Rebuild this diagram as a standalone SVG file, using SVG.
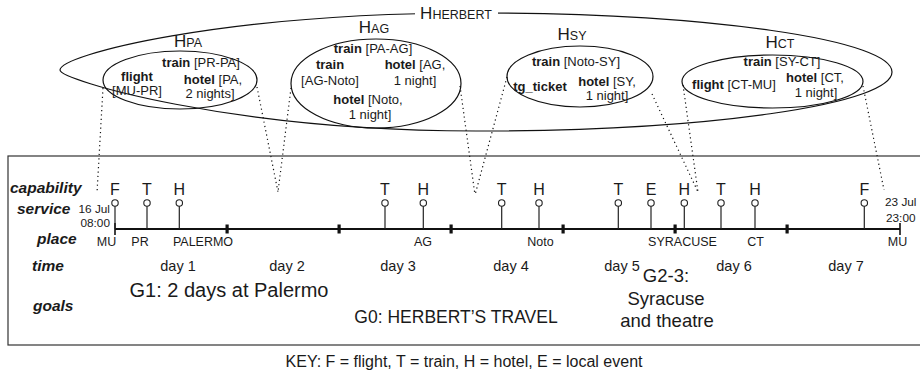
<svg xmlns="http://www.w3.org/2000/svg" width="920" height="371" viewBox="0 0 920 371">
<style>
text{font-family:"Liberation Sans",Arial,sans-serif;fill:#1a1a1a}
.c{font-size:13px;text-anchor:middle}
.b{font-weight:bold}
.hl{font-size:17px;text-anchor:middle}
.hs{font-size:12.5px}
.el{fill:none;stroke:#111;stroke-width:1.2}
.dot{fill:none;stroke:#111;stroke-width:1.2;stroke-dasharray:1.2 3.2}
.lbl{font-size:15.5px;font-weight:bold;font-style:italic}
.let{font-size:16px;text-anchor:middle}
.pl{font-size:12.5px;text-anchor:middle}
.dt{font-size:11.8px}
.day{font-size:14.5px;text-anchor:middle}
.stem{stroke:#222;stroke-width:1.2}
.pin{fill:#fff;stroke:#222;stroke-width:1.1}
.tick{fill:#111}
</style>

<rect x="8" y="156" width="930" height="189" fill="none" stroke="#333" stroke-width="1.2"/>

<g id="H_HERBERT">
<path class="el" d="M476,13 A416,59 0 0 1 476,131 C230,131 60,80 60,70 C60,55 220,13 476,13 Z"/>
<rect x="415" y="4" width="83" height="18" fill="#fff"/>
<text x="456" y="19" class="hl">H<tspan class="hs">HERBERT</tspan></text>
</g>

<g id="H_PA">
<ellipse class="el" cx="180" cy="80" rx="77" ry="29"/>
<text x="188" y="47" class="hl">H<tspan class="hs">PA</tspan></text>
<text x="201" y="67" class="c"><tspan class="b">train</tspan> [PR-PA]</text>
<text x="137" y="81" class="c b">flight</text>
<text x="137" y="95" class="c">[MU-PR]</text>
<text x="213" y="84" class="c"><tspan class="b">hotel</tspan> [PA,</text>
<text x="210" y="98" class="c">2 nights]</text>
</g>

<g id="H_AG">
<ellipse class="el" cx="376" cy="83.5" rx="85" ry="44.5"/>
<text x="374" y="33" class="hl">H<tspan class="hs">AG</tspan></text>
<text x="373" y="53" class="c"><tspan class="b">train</tspan> [PA-AG]</text>
<text x="330" y="69" class="c b">train</text>
<text x="330" y="85" class="c">[AG-Noto]</text>
<text x="415" y="69" class="c"><tspan class="b">hotel</tspan> [AG,</text>
<text x="415" y="85" class="c">1 night]</text>
<text x="368" y="104" class="c"><tspan class="b">hotel</tspan> [Noto,</text>
<text x="370" y="119" class="c">1 night]</text>
</g>

<g id="H_SY">
<ellipse class="el" cx="580" cy="76.5" rx="73" ry="30.5"/>
<text x="572" y="40" class="hl">H<tspan class="hs">SY</tspan></text>
<text x="576" y="66" class="c"><tspan class="b">train</tspan> [Noto-SY]</text>
<text x="540" y="91" class="c b">tg_ticket</text>
<text x="607" y="86" class="c"><tspan class="b">hotel</tspan> [SY,</text>
<text x="607" y="100" class="c">1 night]</text>
</g>

<g id="H_CT">
<ellipse class="el" cx="772.5" cy="81.5" rx="90.5" ry="26.5"/>
<text x="780" y="48" class="hl">H<tspan class="hs">CT</tspan></text>
<text x="782" y="66" class="c"><tspan class="b">train</tspan> [SY-CT]</text>
<text x="734" y="89" class="c"><tspan class="b">flight</tspan> [CT-MU]</text>
<text x="815" y="82" class="c"><tspan class="b">hotel</tspan> [CT,</text>
<text x="816" y="97" class="c">1 night]</text>
</g>

<g id="connectors">
<line class="dot" x1="103" y1="88" x2="97" y2="193"/>
<line class="dot" x1="257" y1="87" x2="278" y2="192"/>
<line class="dot" x1="291" y1="88" x2="278" y2="192"/>
<line class="dot" x1="460" y1="86" x2="475" y2="195"/>
<line class="dot" x1="507" y1="77" x2="475" y2="195"/>
<line class="dot" x1="652" y1="94" x2="698" y2="192"/>
<line class="dot" x1="683" y1="85" x2="698" y2="192"/>
<line class="dot" x1="863" y1="86" x2="884" y2="190"/>
</g>

<g id="row_labels">
<text x="10" y="193" class="lbl">capability</text>
<text x="17" y="214" class="lbl">service</text>
<text x="37" y="244" class="lbl">place</text>
<text x="32" y="271" class="lbl">time</text>
<text x="33" y="311" class="lbl">goals</text>
</g>

<g id="timeline">
<line x1="115" y1="229" x2="900" y2="229" stroke="#111" stroke-width="2"/>
<line x1="115" y1="223" x2="115" y2="235" stroke="#111" stroke-width="1.6"/>
<line x1="900" y1="223" x2="900" y2="235" stroke="#111" stroke-width="1.6"/>
<rect class="tick" x="225.5" y="224.5" width="3.2" height="9"/>
<rect class="tick" x="337.5" y="224.5" width="3.2" height="9"/>
<rect class="tick" x="449.5" y="224.5" width="3.2" height="9"/>
<rect class="tick" x="561.5" y="224.5" width="3.2" height="9"/>
<rect class="tick" x="673.5" y="224.5" width="3.2" height="9"/>
<rect class="tick" x="785.5" y="224.5" width="3.2" height="9"/>
<text x="110" y="213" class="dt" text-anchor="end">16 Jul</text>
<text x="110" y="226.5" class="dt" text-anchor="end">08:00</text>
<text x="885" y="206" class="dt">23 Jul</text>
<text x="886" y="222" class="dt">23:00</text>
</g>

<g id="services">
<g id="s1"><line class="stem" x1="115" y1="206" x2="115" y2="229"/><circle class="pin" cx="115" cy="203" r="3.2"/><text x="115" y="195" class="let">F</text></g>
<g id="s2"><line class="stem" x1="147" y1="206" x2="147" y2="229"/><circle class="pin" cx="147" cy="203" r="3.2"/><text x="147" y="195" class="let">T</text></g>
<g id="s3"><line class="stem" x1="179.3" y1="206" x2="179.3" y2="229"/><circle class="pin" cx="179.3" cy="203" r="3.2"/><text x="179.3" y="195" class="let">H</text></g>
<g id="s4"><line class="stem" x1="385" y1="206" x2="385" y2="229"/><circle class="pin" cx="385" cy="203" r="3.2"/><text x="385" y="195" class="let">T</text></g>
<g id="s5"><line class="stem" x1="423.3" y1="206" x2="423.3" y2="229"/><circle class="pin" cx="423.3" cy="203" r="3.2"/><text x="423.3" y="195" class="let">H</text></g>
<g id="s6"><line class="stem" x1="501.7" y1="206" x2="501.7" y2="229"/><circle class="pin" cx="501.7" cy="203" r="3.2"/><text x="501.7" y="195" class="let">T</text></g>
<g id="s7"><line class="stem" x1="539" y1="206" x2="539" y2="229"/><circle class="pin" cx="539" cy="203" r="3.2"/><text x="539" y="195" class="let">H</text></g>
<g id="s8"><line class="stem" x1="618.3" y1="206" x2="618.3" y2="229"/><circle class="pin" cx="618.3" cy="203" r="3.2"/><text x="618.3" y="195" class="let">T</text></g>
<g id="s9"><line class="stem" x1="651" y1="206" x2="651" y2="229"/><circle class="pin" cx="651" cy="203" r="3.2"/><text x="651" y="195" class="let">E</text></g>
<g id="s10"><line class="stem" x1="684.3" y1="206" x2="684.3" y2="229"/><circle class="pin" cx="684.3" cy="203" r="3.2"/><text x="684.3" y="195" class="let">H</text></g>
<g id="s11"><line class="stem" x1="721" y1="206" x2="721" y2="229"/><circle class="pin" cx="721" cy="203" r="3.2"/><text x="721" y="195" class="let">T</text></g>
<g id="s12"><line class="stem" x1="755" y1="206" x2="755" y2="229"/><circle class="pin" cx="755" cy="203" r="3.2"/><text x="755" y="195" class="let">H</text></g>
<g id="s13"><line class="stem" x1="864.3" y1="206" x2="864.3" y2="229"/><circle class="pin" cx="864.3" cy="203" r="3.2"/><text x="864.3" y="195" class="let">F</text></g>
</g>

<g id="places">
<text x="106.5" y="246" class="pl">MU</text>
<text x="140" y="246" class="pl">PR</text>
<text x="203" y="246" class="pl">PALERMO</text>
<text x="423" y="246" class="pl">AG</text>
<text x="540.5" y="246" class="pl">Noto</text>
<text x="682.5" y="246" class="pl">SYRACUSE</text>
<text x="755.5" y="246" class="pl">CT</text>
<text x="897.5" y="246" class="pl">MU</text>
</g>

<g id="days">
<text x="178" y="271" class="day">day 1</text>
<text x="287" y="271" class="day">day 2</text>
<text x="398" y="271" class="day">day 3</text>
<text x="511" y="271" class="day">day 4</text>
<text x="622" y="271" class="day">day 5</text>
<text x="734" y="271" class="day">day 6</text>
<text x="846" y="271" class="day">day 7</text>
</g>

<g id="goals">
<text x="229" y="297" font-size="20" text-anchor="middle">G1: 2 days at Palermo</text>
<text x="456" y="323" font-size="17.5" text-anchor="middle">G0: HERBERT’S TRAVEL</text>
<text x="666" y="282" font-size="18.5" text-anchor="middle">G2-3:</text>
<text x="666" y="305" font-size="18.5" text-anchor="middle">Syracuse</text>
<text x="667" y="327" font-size="18.5" text-anchor="middle">and theatre</text>
</g>

<text x="464" y="367" font-size="16" text-anchor="middle">KEY: F = flight, T = train, H = hotel, E = local event</text>
</svg>
